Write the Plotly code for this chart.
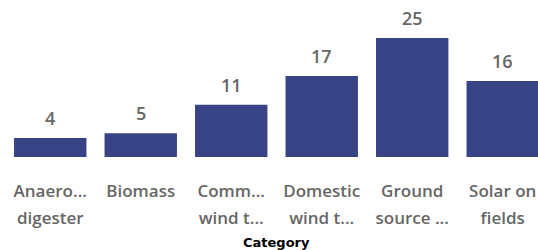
import plotly.graph_objects as go

categories = [["Anaero...", "digester"], ["Biomass"], ["Comm...", "wind t..."],
              ["Domestic", "wind t..."], ["Ground", "source ..."], ["Solar on", "fields"]]
values = [4, 5, 11, 17, 25, 16]
x_pos = list(range(len(categories)))

BAR_COLOR = "#384386"
LABEL_COLOR = "#666666"

# visible text 17px; the outer tick font sets the (wider) line spacing
ticktext = ["<br>".join(f"<span style='font-size:17px'>{ln}</span>" for ln in c) for c in categories]

fig = go.Figure(go.Bar(x=x_pos, y=values, marker_color=BAR_COLOR,
                       marker_line_width=0, hoverinfo="skip"))

for xi, v in zip(x_pos, values):
    fig.add_annotation(x=xi, y=v, xref="x", yref="y", text=str(v),
                       showarrow=False, yanchor="bottom", yshift=6,
                       font=dict(family="Open Sans", size=18, color=LABEL_COLOR, weight=600))

fig.add_annotation(x=2.5, xref="x", y=0, yref="paper", yanchor="top", yshift=-76,
                   text="Category", showarrow=False,
                   font=dict(family="DejaVu Sans", size=13, color="#000000", weight="bold"))

fig.update_layout(
    width=538, height=250,
    margin=dict(l=5, r=0, t=0, b=93, autoexpand=False),
    paper_bgcolor="white", plot_bgcolor="white",
    bargap=0.2,
    showlegend=False,
    xaxis=dict(range=[-0.5, 5.39], tickmode="array", tickvals=x_pos, ticktext=ticktext,
               showgrid=False, zeroline=False, showline=False, ticks="",
               automargin=False, ticklabelstandoff=18,
               tickfont=dict(family="Open Sans", size=21, color=LABEL_COLOR, weight=600)),
    yaxis=dict(range=[0, 33], visible=False, automargin=False),
)

fig.write_html("out.html", config={"displayModeBar": False},
               post_script="document.body.style.margin='0';document.body.style.overflow='hidden';")
